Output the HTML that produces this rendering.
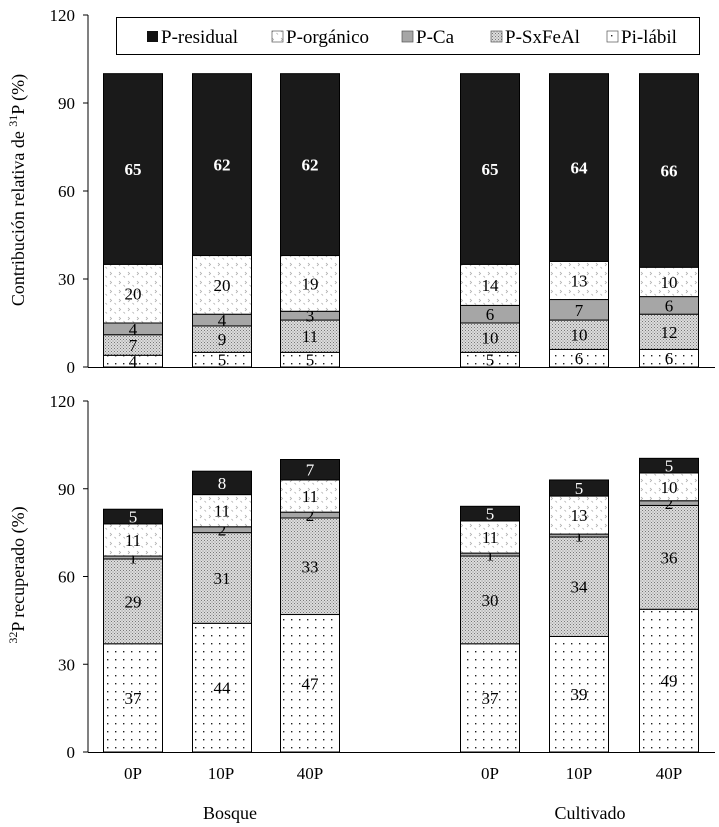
<!DOCTYPE html>
<html><head><meta charset="utf-8"><style>body{margin:0;background:#fff}svg{display:block;font-family:"Liberation Serif",serif}</style></head><body>
<svg width="719" height="827" viewBox="0 0 719 827" xmlns="http://www.w3.org/2000/svg">
<defs>
<pattern id="dot" width="8" height="8" patternUnits="userSpaceOnUse"><rect width="8" height="8" fill="#fff"/><rect x="3" y="3" width="1.4" height="1.4" fill="#222"/></pattern>
<pattern id="hat" width="3" height="3" patternUnits="userSpaceOnUse"><rect width="3" height="3" fill="#dcdcdc"/><rect x="0" y="0" width="1" height="1" fill="#777"/><rect x="1.5" y="1.5" width="1" height="1" fill="#888"/></pattern>
<pattern id="org" width="9" height="9" patternUnits="userSpaceOnUse"><rect width="9" height="9" fill="#fff"/><path d="M2 2l1.5 1.5l-1.5 1.5M6.5 6l1.5 1.5" stroke="#aaa" stroke-width="0.8" fill="none"/></pattern>
</defs>
<g id="chart"></g>
<text x="18" y="190" font-size="18" transform="rotate(-90 18 190)" text-anchor="middle" dy="6">Contribución relativa de <tspan baseline-shift="super" font-size="12">31</tspan>P  (%)</text>
<text x="18" y="575" font-size="18" transform="rotate(-90 18 575)" text-anchor="middle" dy="6"><tspan baseline-shift="super" font-size="12">32</tspan>P recuperado (%)</text>
<rect x="116.5" y="17.5" width="583" height="37" fill="#fff" stroke="#000"/>
<g font-size="19">
<rect x="147" y="31" width="11" height="11" fill="#111"/><text x="161" y="43">P-residual</text>
<rect x="272" y="31" width="11" height="11" fill="url(#org)" stroke="#555" stroke-width="0.7"/><text x="286" y="43">P-orgánico</text>
<rect x="402" y="31" width="11" height="11" fill="#a6a6a6" stroke="#555" stroke-width="0.7"/><text x="416" y="43">P-Ca</text>
<rect x="491" y="31" width="11" height="11" fill="url(#hat)" stroke="#555" stroke-width="0.7"/><text x="505" y="43">P-SxFeAl</text>
<rect x="607" y="31" width="11" height="11" fill="url(#dot)" stroke="#555" stroke-width="0.7"/><text x="621" y="43">Pi-lábil</text>
</g>
<g font-size="17" text-anchor="middle">
<text x="133" y="779">0P</text><text x="221" y="779">10P</text><text x="310" y="779">40P</text>
<text x="490" y="779">0P</text><text x="579" y="779">10P</text><text x="669" y="779">40P</text>
<text x="230" y="819" font-size="18">Bosque</text><text x="590" y="819" font-size="18">Cultivado</text>
</g>
<script>
var NS="http://www.w3.org/2000/svg",g=document.getElementById("chart");
function el(t,a,txt){var e=document.createElementNS(NS,t);for(var k in a)e.setAttribute(k,a[k]);if(txt!=null)e.textContent=txt;g.appendChild(e);return e}
var xs=[103,192,280,460,549,639],W=59;
var fills=["url(#dot)","url(#hat)","#a6a6a6","url(#org)","#1a1a1a"];
function chart(y0,y120,data,labels,bold){
 var s=(y0-y120)/120;
 el("line",{x1:88,y1:y120,x2:88,y2:y0,stroke:"#000","stroke-width":1});
 el("line",{x1:88,y1:y0+0.5,x2:715,y2:y0+0.5,stroke:"#000","stroke-width":1});
 for(var v=0;v<=120;v+=30){var y=y0-v*s;el("line",{x1:83,y1:y,x2:88,y2:y,stroke:"#000"});el("text",{x:75,y:y+6,"font-size":17,"text-anchor":"end"},v)}
 data.forEach(function(d,i){var c=0;d.forEach(function(v,j){var yt=y0-(c+v)*s,h=v*s;
  el("rect",{x:xs[i]+0.5,y:yt,width:W,height:h,fill:fills[j],stroke:"#000","stroke-width":1});
  var a={x:xs[i]+W/2+0.5,y:yt+h/2+6,"font-size":17,"text-anchor":"middle",fill:j==4?"#fff":"#000"};
  if(j==4&&bold)a["font-weight"]="bold";el("text",a,labels[i][j]);c+=v;})});
}
var t=[[4,7,4,20,65],[5,9,4,20,62],[5,11,3,19,62],[5,10,6,14,65],[6,10,7,13,64],[6,12,6,10,66]];
chart(367,15,t,t,true);
var bl=[[37,29,1,11,5],[44,31,2,11,8],[47,33,2,11,7],[37,30,1,11,5],[39,34,1,13,5],[49,36,2,10,5]];
chart(752,401,[[37,29,1,11,5],[44,31,2,11,8],[47,33,2,11,7],[37,30,1,11,5],[39.5,34,1,13,5.5],[48.8,35.5,1.6,9.5,5]],bl,false);
</script>
</svg>
</body></html>
